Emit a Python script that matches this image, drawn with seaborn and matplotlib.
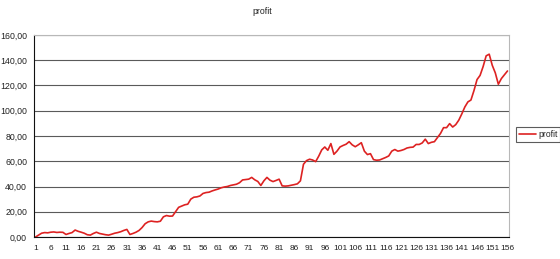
import matplotlib
matplotlib.use("Agg")
import matplotlib.pyplot as plt
import seaborn as sns
import pandas as pd
import numpy as np
from matplotlib.ticker import FixedLocator, FuncFormatter

profit = [
    0, 1.5, 3, 3.5, 3.3, 3.8, 4, 3.6, 3.8, 3.7,
    2, 2.8, 3.5, 5.5, 4.5, 3.8, 3, 1.8, 1.5, 2.8,
    3.8, 2.8, 2.3, 1.8, 1.5, 2.2, 3, 3.5, 4.2, 5.2,
    6, 2, 2.8, 3.8, 5.2, 7.5, 10.5, 12, 12.6, 12.2,
    12, 12.5, 16, 17, 16.5, 16.6, 20, 23.5, 24.5, 25.5,
    26, 30, 31.5, 31.8, 32.5, 34.5, 35.2, 35.5, 36.5, 37.3,
    38, 39, 39.6, 40, 40.8, 41.3, 41.8, 43, 45.2, 45.5,
    45.8, 47.2, 45.3, 44, 40.8, 44.5, 47.2, 45, 43.9, 44.8,
    45.8, 40.5, 40.3, 40.5, 41, 41.5, 42.1, 44.5, 57.6, 60.5,
    61.6, 61, 59.7, 64, 69, 71.3, 68.7, 74, 65.5, 68,
    71.3, 72.5, 73.5, 75.5, 73, 71.5, 73, 74.7, 68, 65.3,
    66, 61.3, 60.8, 61, 62, 63, 64.2, 68, 69.3, 68,
    68.5, 69.3, 70.5, 71, 71.2, 73.3, 73.3, 74.5, 77.5, 74,
    75, 75.5, 78.7, 82, 86.6, 86.6, 89.8, 87.1, 89, 92.5,
    97.5, 103, 107, 108.5, 116, 124.7, 128, 135, 143.5, 144.8,
    136, 130, 121, 125.5, 128.5, 131.5,
]
periods = list(range(1, len(profit) + 1))
x_labels = list(range(1, 157, 5))
y_ticks = [0, 20, 40, 60, 80, 100, 120, 140, 160]

df = pd.DataFrame({"period": periods, "profit": profit})

sns.set_style("white")
plt.rcParams["font.family"] = ["Liberation Sans", "DejaVu Sans"]

fig = plt.figure(figsize=(5.6, 2.59), dpi=100)
ax = fig.add_axes([34 / 560, 1 - 237 / 259, (509 - 34) / 560, (237 - 35) / 259])

sns.lineplot(data=df, x="period", y="profit", ax=ax, color="#dd2222",
             linewidth=1.2, label="profit", legend=False)

ax.set_xlim(0.5, len(profit) + 0.5)
ax.set_ylim(0, 160)
ax.set_xlabel("")
ax.set_ylabel("")

ax.yaxis.set_major_locator(FixedLocator(y_ticks))
ax.yaxis.set_major_formatter(FuncFormatter(lambda v, p: f"{v:.2f}".replace(".", ",")))
ax.xaxis.set_major_locator(FixedLocator(x_labels))
ax.xaxis.set_minor_locator(FixedLocator(np.arange(0.5, len(profit) + 1, 1)))

ax.tick_params(axis="x", which="major", length=0, labelsize=6, pad=6, colors="#222222")
ax.tick_params(axis="x", which="minor", length=3, width=0.6, color="#222222", direction="out")
ax.tick_params(axis="y", which="major", length=3, width=0.6, color="#222222",
               labelsize=6.3, pad=2, labelcolor="#222222")

ax.grid(axis="y", color="#5a5a5a", linewidth=0.8)
ax.set_axisbelow(True)

for s in ["top", "right"]:
    ax.spines[s].set_color("#b8b8b8")
    ax.spines[s].set_linewidth(0.8)
for s in ["left", "bottom"]:
    ax.spines[s].set_color("#111111")
    ax.spines[s].set_linewidth(0.8)

fig.text(262 / 560, 1 - 12 / 259, "profit", ha="center", va="center", fontsize=6.3, color="#222222")

handles, labels = ax.get_legend_handles_labels()
leg = fig.legend(handles, labels, loc="center left", bbox_to_anchor=(516 / 560, 1 - 134.5 / 259),
                 fontsize=6.2, frameon=True, fancybox=False, handlelength=2.0,
                 handletextpad=0.2, borderpad=0.35, borderaxespad=0)
leg.get_frame().set_edgecolor("#333333")
leg.get_frame().set_linewidth(0.8)

fig.savefig("out.png", dpi=100)
